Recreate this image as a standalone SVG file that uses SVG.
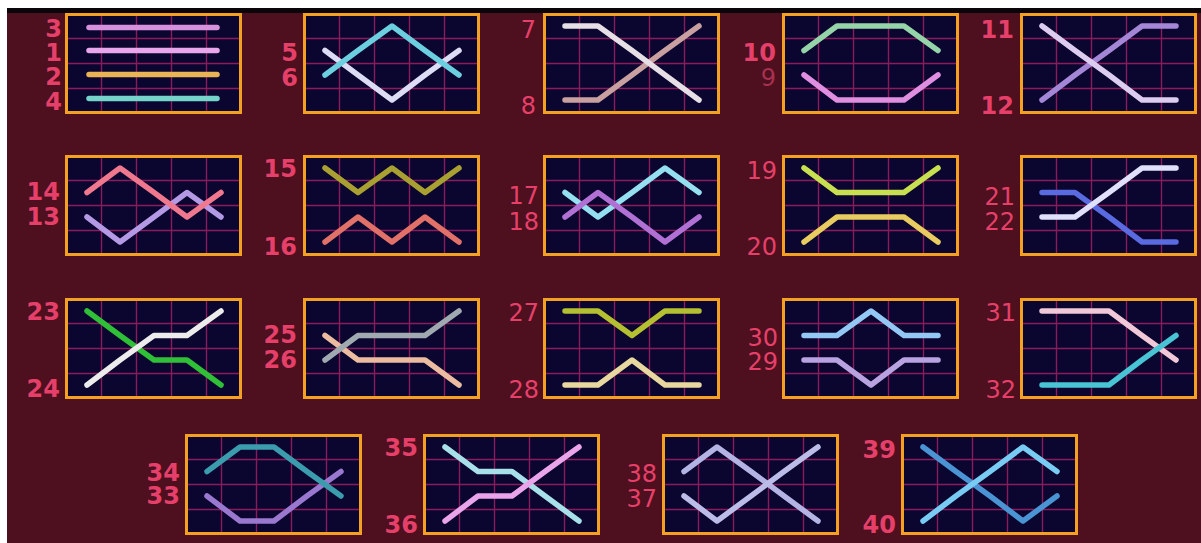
<svg xmlns="http://www.w3.org/2000/svg" xmlns:xlink="http://www.w3.org/1999/xlink" width="1201" height="543" viewBox="0 0 1201 543">
<style>
.lb{font-family:"DejaVu Sans","Liberation Sans",sans-serif;font-weight:bold;font-size:24px;fill:#e6406a;text-anchor:end}
.ln{font-family:"DejaVu Sans","Liberation Sans",sans-serif;font-weight:normal;font-size:24px;fill:#e6406a;text-anchor:end}
.pl{fill:none;stroke-width:5.5;stroke-linecap:round;stroke-linejoin:round}
.grid{stroke:#8a1c5c;stroke-width:1.4}
</style>
<defs>
<g id="pb">
<rect x="1.5" y="1.5" width="174" height="98" fill="#0a0630" stroke="#f4a020" stroke-width="3"/>
<g class="grid">
<line x1="36.5" y1="3" x2="36.5" y2="98"/>
<line x1="71.5" y1="3" x2="71.5" y2="98"/>
<line x1="106.5" y1="3" x2="106.5" y2="98"/>
<line x1="141.5" y1="3" x2="141.5" y2="98"/>
<line x1="3" y1="25.5" x2="174" y2="25.5"/>
<line x1="3" y1="50.5" x2="174" y2="50.5"/>
<line x1="3" y1="75.5" x2="174" y2="75.5"/>
</g>
</g>
</defs>
<rect x="0" y="0" width="1201" height="543" fill="#ffffff"/>
<rect x="7" y="8" width="1194" height="535" fill="#4e0f1e"/>
<rect x="7" y="8" width="1194" height="5" fill="#0a0508"/>

<g id="connectors"></g>

<g id="p1" transform="translate(65,13)"><use xlink:href="#pb"/>
<polyline class="pl" stroke="#d690dc" points="24,14.5 152,14.5"/>
<polyline class="pl" stroke="#e8a6ec" points="24,37.5 152,37.5"/>
<polyline class="pl" stroke="#e8b455" points="24,61.5 152,61.5"/>
<polyline class="pl" stroke="#74d4cc" points="24,85.5 152,85.5"/>
</g>
<g id="p2" transform="translate(303,13)"><use xlink:href="#pb"/>
<polyline class="pl" stroke="#dcdcf4" points="22,37.5 55,62 89,87 122,62 156,37.5"/>
<polyline class="pl" stroke="#6ccfe0" points="22,62 55,37.5 89,13 122,37.5 156,62"/>
</g>
<g id="p3" transform="translate(543,13)"><use xlink:href="#pb"/>
<polyline class="pl" stroke="#c8a0a0" points="22,87 55,87 89,62 122,37.5 156,13"/>
<polyline class="pl" stroke="#e6dfe6" points="22,13 55,13 89,37.5 122,62 156,87"/>
</g>
<g id="p4" transform="translate(782,13)"><use xlink:href="#pb"/>
<polyline class="pl" stroke="#94d4a8" points="22,37.5 55,13 89,13 122,13 156,37.5"/>
<polyline class="pl" stroke="#e08ee0" points="22,62 55,87 89,87 122,87 156,62"/>
</g>
<g id="p5" transform="translate(1020,13)"><use xlink:href="#pb"/>
<polyline class="pl" stroke="#a486d6" points="22,87 55,62 89,37.5 122,13 156,13"/>
<polyline class="pl" stroke="#dccdf0" points="22,13 55,37.5 89,62 122,87 156,87"/>
</g>

<g id="p6" transform="translate(65,155)"><use xlink:href="#pb"/>
<polyline class="pl" stroke="#b49ae4" points="22,62 55,87 89,62 122,37.5 156,62"/>
<polyline class="pl" stroke="#f0788e" points="22,37.5 55,13 89,37.5 122,62 156,37.5"/>
</g>
<g id="p7" transform="translate(303,155)"><use xlink:href="#pb"/>
<polyline class="pl" stroke="#a8a030" points="22,13 55,37.5 89,13 122,37.5 156,13"/>
<polyline class="pl" stroke="#e07068" points="22,87 55,62 89,87 122,62 156,87"/>
</g>
<g id="p8" transform="translate(543,155)"><use xlink:href="#pb"/>
<polyline class="pl" stroke="#94e0f0" points="22,37.5 55,62 89,37.5 122,13 156,37.5"/>
<polyline class="pl" stroke="#b070d4" points="22,62 55,37.5 89,62 122,87 156,62"/>
</g>
<g id="p9" transform="translate(782,155)"><use xlink:href="#pb"/>
<polyline class="pl" stroke="#c8e050" points="22,13 55,37.5 89,37.5 122,37.5 156,13"/>
<polyline class="pl" stroke="#e8cc60" points="22,87 55,62 89,62 122,62 156,87"/>
</g>
<g id="p10" transform="translate(1020,155)"><use xlink:href="#pb"/>
<polyline class="pl" stroke="#5a6ae0" points="22,37.5 55,37.5 89,62 122,87 156,87"/>
<polyline class="pl" stroke="#e0e0fa" points="22,62 55,62 89,37.5 122,13 156,13"/>
</g>

<g id="p11" transform="translate(65,298)"><use xlink:href="#pb"/>
<polyline class="pl" stroke="#30c038" points="22,13 55,37.5 89,62 122,62 156,87"/>
<polyline class="pl" stroke="#ececec" points="22,87 55,62 89,37.5 122,37.5 156,13"/>
</g>
<g id="p12" transform="translate(303,298)"><use xlink:href="#pb"/>
<polyline class="pl" stroke="#ecbca0" points="22,37.5 55,62 89,62 122,62 156,87"/>
<polyline class="pl" stroke="#a0a8b0" points="22,62 55,37.5 89,37.5 122,37.5 156,13"/>
</g>
<g id="p13" transform="translate(543,298)"><use xlink:href="#pb"/>
<polyline class="pl" stroke="#b4c030" points="22,13 55,13 89,37.5 122,13 156,13"/>
<polyline class="pl" stroke="#e8d8a0" points="22,87 55,87 89,62 122,87 156,87"/>
</g>
<g id="p14" transform="translate(782,298)"><use xlink:href="#pb"/>
<polyline class="pl" stroke="#94c8f4" points="22,37.5 55,37.5 89,13 122,37.5 156,37.5"/>
<polyline class="pl" stroke="#b8a2e0" points="22,62 55,62 89,87 122,62 156,62"/>
</g>
<g id="p15" transform="translate(1020,298)"><use xlink:href="#pb"/>
<polyline class="pl" stroke="#f0c8d8" points="22,13 55,13 89,13 122,37.5 156,62"/>
<polyline class="pl" stroke="#48c4d4" points="22,87 55,87 89,87 122,62 156,37.5"/>
</g>

<g id="p16" transform="translate(185,434)"><use xlink:href="#pb"/>
<polyline class="pl" stroke="#9a78d0" points="22,62 55,87 89,87 122,62 156,37.5"/>
<polyline class="pl" stroke="#3a9cac" points="22,37.5 55,13 89,13 122,37.5 156,62"/>
</g>
<g id="p17" transform="translate(423,434)"><use xlink:href="#pb"/>
<polyline class="pl" stroke="#a8e0ea" points="22,13 55,37.5 89,37.5 122,62 156,87"/>
<polyline class="pl" stroke="#eaa4ea" points="22,87 55,62 89,62 122,37.5 156,13"/>
</g>
<g id="p18" transform="translate(662,434)"><use xlink:href="#pb"/>
<polyline class="pl" stroke="#b4b4e4" points="22,37.5 55,13 89,37.5 122,62 156,87"/>
<polyline class="pl" stroke="#bcbce8" points="22,62 55,87 89,62 122,37.5 156,13"/>
</g>
<g id="p19" transform="translate(901,434)"><use xlink:href="#pb"/>
<polyline class="pl" stroke="#4a94d4" points="22,13 55,37.5 89,62 122,87 156,62"/>
<polyline class="pl" stroke="#78ccf4" points="22,87 55,62 89,37.5 122,13 156,37.5"/>
</g>

<g id="labels">
<text class="lb" x="62" y="37">3</text>
<text class="lb" x="62" y="61">1</text>
<text class="lb" x="62" y="85">2</text>
<text class="lb" x="62" y="110">4</text>
<text class="lb" x="298" y="61">5</text>
<text class="lb" x="298" y="86">6</text>
<text class="ln" x="536" y="38">7</text>
<text class="ln" x="536" y="114">8</text>
<text class="lb" x="776" y="61">10</text>
<text class="ln" x="776" y="86" style="fill:#a83050">9</text>
<text class="lb" x="1014" y="38">11</text>
<text class="lb" x="1014" y="114">12</text>

<text class="lb" x="60" y="200">14</text>
<text class="lb" x="60" y="225">13</text>
<text class="lb" x="297" y="177">15</text>
<text class="lb" x="297" y="255">16</text>
<text class="ln" x="539" y="204">17</text>
<text class="ln" x="539" y="230">18</text>
<text class="ln" x="777" y="179">19</text>
<text class="ln" x="777" y="255">20</text>
<text class="ln" x="1015" y="205">21</text>
<text class="ln" x="1015" y="230">22</text>

<text class="lb" x="60" y="320">23</text>
<text class="lb" x="60" y="397">24</text>
<text class="lb" x="297" y="343">25</text>
<text class="lb" x="297" y="368">26</text>
<text class="ln" x="539" y="321">27</text>
<text class="ln" x="539" y="398">28</text>
<text class="ln" x="778" y="346">30</text>
<text class="ln" x="778" y="370">29</text>
<text class="ln" x="1016" y="321">31</text>
<text class="ln" x="1016" y="398">32</text>

<text class="lb" x="180" y="481">34</text>
<text class="lb" x="180" y="504">33</text>
<text class="lb" x="418" y="456">35</text>
<text class="lb" x="418" y="533">36</text>
<text class="ln" x="657" y="482">38</text>
<text class="ln" x="657" y="507">37</text>
<text class="lb" x="896" y="458">39</text>
<text class="lb" x="896" y="533">40</text>
</g>
</svg>
